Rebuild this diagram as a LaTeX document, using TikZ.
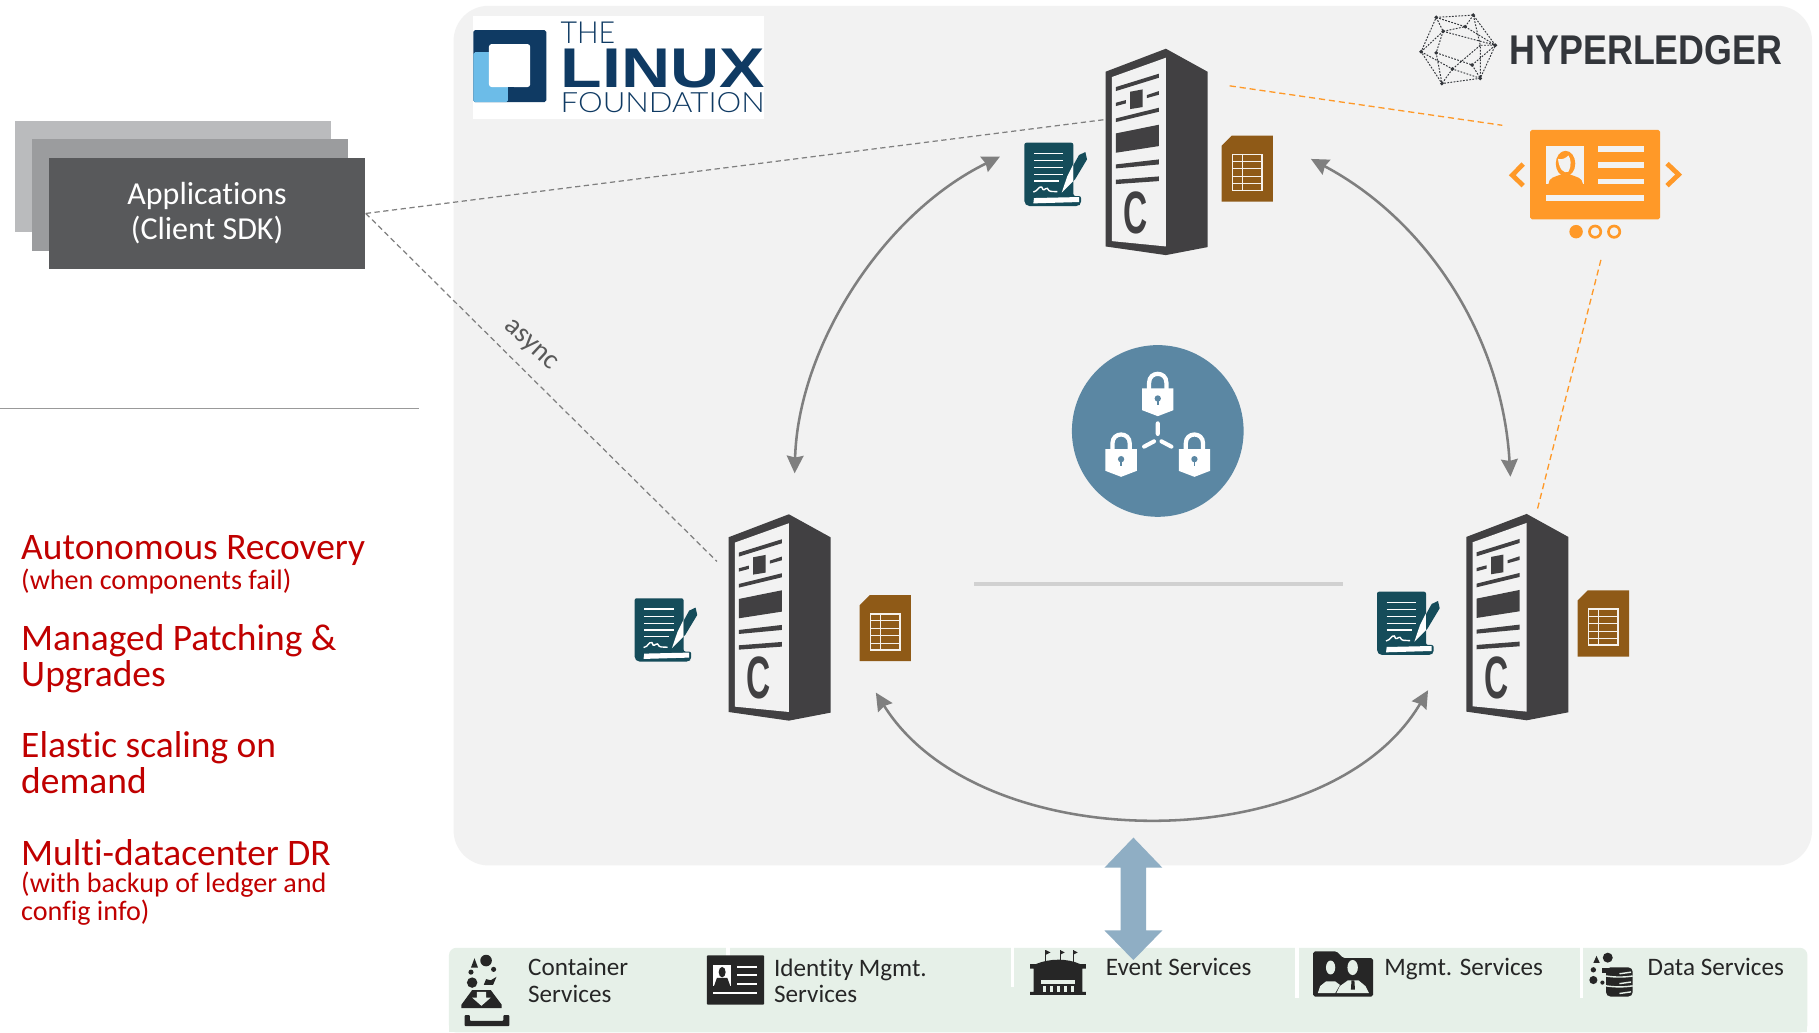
\documentclass[tikz,border=0pt]{standalone}
\usepackage{fontspec}
\usepackage{graphicx}
\usetikzlibrary{arrows.meta}
\setmainfont[Ligatures=NoCommon]{Carlito}
\newfontfamily\heavyf{Liberation Sans}
\newfontfamily\lightf[UprightFont=* Light]{Lato}
\newfontfamily\rackf{Liberation Sans}
\definecolor{panelc}{HTML}{F2F2F2}
\definecolor{barc}{HTML}{E6F0E8}
\definecolor{rackc}{HTML}{414042}
\definecolor{tealc}{HTML}{154C5A}
\definecolor{brownc}{HTML}{8F5A17}
\definecolor{orangec}{HTML}{FF9928}
\definecolor{lockc}{HTML}{5B87A3}
\definecolor{arrowc}{HTML}{7F7F7F}
\definecolor{linuxc}{HTML}{0F3A63}
\definecolor{linuxl}{HTML}{6CBCE8}
\definecolor{hlc}{HTML}{33363B}
\definecolor{redt}{HTML}{C00000}
\definecolor{darkc}{HTML}{262626}
\definecolor{updown}{HTML}{8FAEC4}
\definecolor{stacka}{HTML}{BABBBD}
\definecolor{stackb}{HTML}{9B9C9E}
\definecolor{stackc}{HTML}{58595B}
\tikzset{
  x=0.0232cm,y=-0.0232cm,
  rackpic/.pic={
    \begin{scope}[scale=0.2874,shift={(-507,-43)}]
      \fill[rackc] (326,112)--(507,43)--(632,112)--(632,638)--(507,662)--(326,636)--cycle;
      \fill[panelc] (345,128)--(507,70)--(507,636)--(345,620)--cycle;
      \fill[rackc] (357,158)--(486,118)--(486,130)--(357,170)--cycle;
      \fill[rackc] (357,205)--(387,197)--(387,207)--(357,215)--cycle;
      \fill[rackc] (400,172)--(437,165)--(437,218)--(400,224)--cycle;
      \fill[rackc] (450,182)--(486,170)--(486,181)--(450,191)--cycle;
      \fill[rackc] (357,252)--(486,220)--(486,232)--(357,263)--cycle;
      \fill[rackc] (357,297)--(486,271)--(486,335)--(357,355)--cycle;
      \fill[rackc] (357,390)--(486,375)--(486,390)--(357,402)--cycle;
      \fill[rackc] (357,436)--(486,426)--(486,440)--(357,449)--cycle;
      \node[inner sep=0,text=rackc,font=\rackf\bfseries\fontsize{34}{34}\selectfont] at (416,535) {\scalebox{0.56}[1]{C}};
    \end{scope}
  },
  contractpic/.pic={
    \begin{scope}[scale=0.2874,shift={(-43,-295)}]
      \fill[tealc,rounded corners=1.2pt] (43,295)--(190,295)--(190,455)--(213,455)--(213,478)--(205,485)--(52,485)--(43,476)--cycle;
      \fill[white] (72,461)--(207,458)--(207,473)--(70,477)--cycle;
      \foreach \yy/\xe in {327/160,349/160,370/160,390/160,410/147}
        \draw[white,line width=0.85pt] (72,\yy)--(\xe,\yy);
      \draw[white,line width=0.8pt] (70,443) .. controls (85,440) and (85,425) .. (95,428) .. controls (100,445) and (105,430) .. (112,432) .. controls (118,445) and (125,440) .. (142,442);
      \begin{scope}
        \clip (43,295) rectangle (190,452);
        \fill[white] (155,445)--(172,395)--(200,340)--(222,350)--(195,405)--cycle;
      \end{scope}
      \begin{scope}
        \clip (190,295) rectangle (240,452);
        \fill[tealc] (155,445)--(172,395)--(207,332)--(226,323)--(231,345)--(195,405)--cycle;
      \end{scope}
    \end{scope}
  },
  sheetpic/.pic={
    \begin{scope}[scale=0.2874,shift={(-720,-286)}]
      \fill[brownc] (720,316)--(750,286)--(874,286)--(874,484)--(720,484)--cycle;
      \draw[white!92!brownc,line width=0.85pt] (753,342) rectangle (841,450);
      \foreach \yy in {363,385,408,430} \draw[white!92!brownc,line width=0.7pt] (753,\yy)--(841,\yy);
      \draw[white!92!brownc,line width=0.7pt] (783,342)--(783,450);
    \end{scope}
  },
  lockpic/.pic={
    \begin{scope}[scale=0.2874,shift={(-354,-205)}]
      \draw[white,line width=2.4pt] (328,178)--(328,158) .. controls (328,122) and (380,122) .. (380,158)--(380,178);
      \fill[white] (307,175)--(401,175)--(401,240)--(354,258)--(307,240)--cycle;
      \fill[lockc] (354,205) circle (9.5);
      \draw[lockc,line width=1pt] (354,205)--(354,225);
    \end{scope}
  },
  flow/.style={draw=arrowc,line width=1.45pt,{Stealth[length=10pt,width=9.5pt,inset=1pt]}-{Stealth[length=10pt,width=9.5pt,inset=1pt]}},
  link/.style={draw=arrowc,line width=0.7pt,dash pattern=on 3pt off 2pt},
  olink/.style={draw=orangec,line width=0.75pt,dash pattern=on 3.5pt off 2.2pt},
  redtext/.style={text=redt,anchor=north west,inner sep=0,align=left,font=\fontsize{21.3}{20.4}\selectfont},
  svc/.style={text=darkc,anchor=north west,inner sep=0,align=left,font=\fontsize{14.3}{15}\selectfont},
  divider/.style={draw=white,line width=1.8pt},
  hledge/.style={draw=hlc,line width=0.55pt,dash pattern=on 1pt off 0.8pt},
}
\newcommand{\smalltxt}{\fontsize{16}{16}\selectfont}
\begin{document}
\begin{tikzpicture}
\useasboundingbox (0,0) rectangle (1568,890);
\fill[white] (0,0) rectangle (1568,890);
% main panel
\fill[panelc,rounded corners=0.7cm] (391,5) rectangle (1562,746);
% left stack
\fill[stacka] (13,104) rectangle (285,200);
\fill[stackb] (28,120) rectangle (300,216);
\node[fill=stackc,text=white,minimum width=273*0.0232cm,minimum height=96*0.0232cm,inner sep=0,align=center,font=\fontsize{18.2}{20}\selectfont] (app) at (178.5,184) {\raisebox{-1.4pt}{\parbox{5cm}{\centering Applications\\(Client SDK)}}};
\draw[black!40,line width=0.7pt] (0,352)--(361,352);
% red text
\node[redtext] (t1) at (18,461) {Autonomous Recovery\\[-3.3pt]{\smalltxt (when components fail)}};
\node[redtext] (t2) at (18,538) {Managed Patching \&\\Upgrades};
\node[redtext] (t3) at (18,630) {Elastic scaling on\\demand};
\node[redtext] (t4) at (18,723) {Multi-datacenter DR\\[-4.6pt]{\smalltxt (with backup of ledger and}\\[-4.6pt]{\smalltxt config info)}};
% Linux Foundation logo
\fill[white] (408,14) rectangle (659,103);
\fill[linuxc,rounded corners=1pt] (408,26) rectangle (471,88);
\fill[linuxl,rounded corners=1pt] (408,45) rectangle (438,88);
\fill[white,rounded corners=1.5pt] (421.5,38) rectangle (457,75);
\fill[linuxc] (438,75) rectangle (443,88);
\node[inner sep=0,anchor=north west,text=linuxc] (lf1) at (483,19) {\resizebox{1.09cm}{0.43cm}{\lightf THE}};
\node[inner sep=0,anchor=north west,text=linuxc] (lf2) at (483,42) {\resizebox{4.08cm}{0.77cm}{\heavyf\bfseries LINUX}};
\node[inner sep=0,anchor=north west,text=linuxc] (lf3) at (483,79) {\resizebox{4.08cm}{0.40cm}{\lightf FOUNDATION}};
% Hyperledger logo
\foreach \nm/\px/\py in {a/1238/15,b/1270/13,c/1289/39,d/1276/67.5,e/1243/72,f/1225/44.6,g/1244/27,h/1263/23,i/1238/45.5,j/1269/56,k/1252/59.5,l/1276/39}
  \coordinate (hl\nm) at (\px,\py);
\draw[hledge] (hla)--(hlb)--(hlc)--(hld)--(hle)--(hlf)--cycle;
\draw[hledge] (hla)--(hlg)--(hlh)--(hlb) (hlg)--(hlc) (hlg)--(hlf) (hlh)--(hlc) (hlf)--(hlk)--(hld) (hlk)--(hle) (hli)--(hlj)--(hlc) (hlk)--(hll)--(hld) (hlg)--(hli)--(hle) (hla)--(hlh) (hlj)--(hld) (hlb)--(hll) (hlc)--(hll);
\foreach \nm in {a,b,c,d,e,f,g,h,i,j,k} \fill[hlc] (hl\nm) circle (1.7);
\node[inner sep=0,anchor=north west,text=hlc] (hltext) at (1301,30) {\resizebox{5.45cm}{0.58cm}{\heavyf\bfseries HYPERLEDGER}};
% centre
\fill[black!18] (840,501.5) rectangle (1158,504.8);
\begin{scope}[shift={(998,371.5)}]
  \fill[lockc] (0,0) circle (74);
  \path (0,-28) pic {lockpic};
  \path (-31.6,24.3) pic {lockpic};
  \path (31.6,24.3) pic {lockpic};
  \begin{scope}[scale=0.2874,shift={(-354,-303)}]
    \draw[white,line width=2.3pt,line cap=round] (354,280)--(354,312) (313,350)--(343,334) (395,350)--(365,334);
  \end{scope}
\end{scope}
% racks and documents
\path (1005,42) pic {rackpic};
\path (680,443.3) pic {rackpic};
\path (1316,443) pic {rackpic};
\path (883,123) pic {contractpic};
\path (547,515.7) pic {contractpic};
\path (1187,510) pic {contractpic};
\path (1053,117) pic {sheetpic};
\path (741,513) pic {sheetpic};
\path (1360,509) pic {sheetpic};
% ID card
\fill[orangec,rounded corners=1pt] (1319,112) rectangle (1431,189);
\fill[panelc] (1333,126) rectangle (1365.6,158.6);
\foreach \yy in {126,140,154} \fill[panelc] (1377.6,\yy) rectangle (1417,\yy+4.8);
\fill[panelc] (1333,168) rectangle (1417,173);
\fill[orangec] (1349.5,141) ellipse (8.4 and 11);
\fill[panelc] (1343,137) .. controls (1347,138) and (1350,136) .. (1352,134) .. controls (1354,137) and (1355,142) .. (1352,148) .. controls (1348,150) and (1344,146) .. cycle;
\fill[orangec] (1334.8,158.6) .. controls (1335,153) and (1340,152.5) .. (1347,150) -- (1352,150) .. controls (1359,152.5) and (1364,153) .. (1364.5,158.6) -- cycle;
\draw[orangec,line width=2.7pt] (1313,141.4)--(1303.6,151)--(1313,160);
\draw[orangec,line width=2.7pt] (1437,141)--(1447,150.5)--(1437,160);
\fill[orangec] (1358.6,199.7) circle (5.8);
\draw[orangec,line width=1.5pt] (1375,199.7) circle (4.9);
\draw[orangec,line width=1.5pt] (1391.4,199.7) circle (4.9);
% connector end points
\coordinate (rtop) at (953,103);
\coordinate (rleft) at (618,484);
\coordinate (oa) at (1060,74);
\coordinate (ob) at (1295,108);
\coordinate (oc) at (1380,224);
\coordinate (od) at (1325,440);
\coordinate (f1a) at (862,135);
\coordinate (f1b) at (685,408);
\coordinate (f2a) at (1130,137);
\coordinate (f2b) at (1302,411);
\coordinate (f3a) at (755,597);
\coordinate (f3b) at (1231,595);
% connectors
\draw[link] (app.east)--(rtop);
\draw[link] (app.east)--(rleft);
\node[rotate=-43,text=black!65,inner sep=0,font=\fontsize{16}{16}\selectfont] (asynclabel) at (457,298) {async};
\draw[olink] (oa)--(ob);
\draw[olink] (oc)--(od);
\draw[flow] (f1a) .. controls (760,185) and (688,300) .. (f1b);
\draw[flow] (f2a) .. controls (1230,190) and (1295,290) .. (f2b);
\draw[flow] (f3a) .. controls (845,741) and (1145,741) .. (f3b);
% bottom bar
\fill[barc,rounded corners=0.15cm] (387,817) -- (1558,817) -- (1558,890) -- (387,890) -- cycle;
\fill[barc] (387,830) rectangle (1558,890);
\draw[divider] (627.6,816)--(627.6,830);
\draw[divider] (872.6,816)--(872.6,851);
\draw[divider] (1118,816)--(1118,860);
\draw[divider] (1363,816)--(1363,860);
% double arrow
\fill[updown] (977,722)--(1002,748)--(988,748)--(988,802)--(1002,802)--(977,827.6)--(952,802)--(966,802)--(966,748)--(952,748)--cycle;
% service labels
\node[svc] (s1) at (455,826) {Container\\Services};
\node[svc] (s2) at (667,826) {Identity Mgmt.\\Services};
\node[svc] (s3) at (953,826) {Event Services};
\node[svc] (s4) at (1193,826) {Mgmt. Services};
\node[svc] (s5) at (1420,826) {Data Services};
% container icon
\fill[darkc] (419,828) circle (5);
\fill[darkc] (406,834)--(412,834)--(409,826)--cycle;
\fill[darkc] (406,838) circle (2.2);
\fill[darkc] (425.5,835.6) circle (2.2);
\fill[darkc] (407,847) circle (4.5);
\fill[darkc] (417,849)--(419,844)--(423,845)--(428,842)--(425,849)--cycle;
\fill[darkc] (397.8,866)--(407,853.4)--(423,853.4)--(432.4,866)--(432.4,869)--(397.8,869)--cycle;
\fill[barc] (411,855)--(419,855)--(419,860)--(423,860)--(415,867)--(407,860)--(411,860)--cycle;
\fill[darkc,rounded corners=0.5pt] (400.5,875)--(405,875)--(405,880)--(434,880)--(434,875)--(439,875)--(439,884.5)--(400.5,884.5)--cycle;
% identity icon
\fill[darkc,rounded corners=0.5pt] (609.4,823.5) rectangle (658.7,866);
\fill[white] (614.8,832) rectangle (630.2,850);
\fill[darkc] (622.5,838) ellipse (3 and 4.5);
\fill[darkc] (615.5,850)--(618,843)--(627,843)--(629.5,850)--cycle;
\foreach \yy in {832.5,840,847.5} \fill[white] (635,\yy) rectangle (652.5,\yy+1.6);
\fill[white] (614.8,855) rectangle (652.5,856.6);
% event icon
\fill[darkc] (888,831)--(936,831)--(936,835)--(933,835)--(933,855)--(936,855)--(936,857.5)--(888,857.5)--(888,855)--(891,855)--(891,835)--(888,835)--cycle;
\fill[darkc] (893,831)..controls (905,826) and (920,826)..(931,831)--cycle;
\fill[barc] (897,845) rectangle (927,848);
\foreach \xx in {899,905,911,917,923} \fill[barc] (\xx,850) rectangle (\xx+3,855);
\foreach \xx in {901.6,913.8,925} {
  \draw[darkc,line width=0.5pt] (\xx,819)--(\xx,830);
  \fill[darkc] (\xx,819)--(\xx+4,821)--(\xx,823)--cycle;
}
% mgmt icon
\fill[darkc,rounded corners=1pt] (1132,820)--(1152,820)--(1158,826)--(1183.6,826)--(1183.6,859)--(1132,859)--cycle;
\fill[barc] (1147,834) ellipse (4 and 6);
\fill[barc] (1136,856)--(1138,850)--(1143,846)--(1151,846)--(1155,849)--(1151,856)--cycle;
\fill[barc] (1166,834) ellipse (4.5 and 6.5);
\fill[barc] (1152,856)--(1155,850)--(1162,845)--(1171,845)--(1177,850)--(1180,856)--cycle;
\fill[darkc] (1165,845)--(1167.5,845)--(1168,853)--(1164.5,853)--cycle;
% data icon
\fill[darkc] (1373.5,830)--(1379,830)--(1376.2,824)--cycle;
\fill[darkc] (1385.9,825.5) circle (4.3);
\fill[darkc] (1373.5,836) circle (2.3);
\fill[darkc] (1373.5,844.8) circle (3.5);
\fill[darkc] (1381.3,847) circle (1.8);
\fill[darkc] (1381,834.5) rectangle (1390,839);
\fill[darkc,rounded corners=2.5pt] (1384.4,833.9) rectangle (1407.4,859);
\foreach \yy in {841.3,849.8} \draw[barc,line width=0.8pt] (1384.4,\yy)..controls (1392,\yy+1.2) and (1400,\yy+1.2)..(1407.4,\yy);
\foreach \yy in {839,847.5,856} \draw[barc,line width=0.8pt] (1396,\yy+0.4)--(1406,\yy-1);
\end{tikzpicture}
\end{document}
